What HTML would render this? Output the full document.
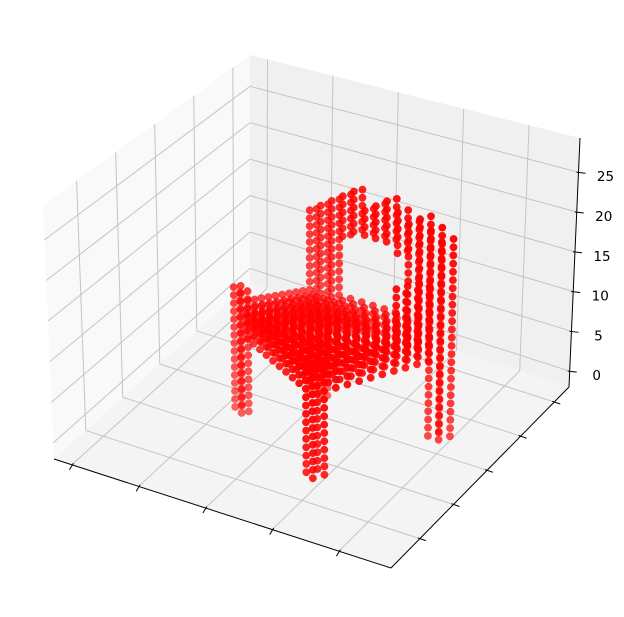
<!DOCTYPE html>
<html><head><meta charset="utf-8"><style>
html,body{margin:0;padding:0;background:#fff;}
svg{display:block;}
text{font-family:"DejaVu Sans","Liberation Sans",sans-serif;font-size:13.5px;fill:#000;}
</style></head><body>
<svg id="chart" width="624" height="617" viewBox="0 0 624 617" xmlns="http://www.w3.org/2000/svg">
<g id="panes"></g>
<g id="grid"></g>
<g id="axes"></g>
<g id="pts"></g>
</svg>
<script>
// ---- data ----
const xTicks = [0, 5, 10, 15, 20];
const yTicks = [0, 5, 10, 15, 20];
const zTicks = [0, 5, 10, 15, 20, 25];
const zTickLabels = ["0", "5", "10", "15", "20", "25"];
const xLim = [-1.34, 23.9];
const yLim = [-4.3, 22.2];
const zLim = [-2, 29.3];
// chair frame corners in data coords (x,y): front-left B, front-right A, back-left D, back-right C
const cornerB = [6.6, 6.2];
const cornerA = [15.3, 1.0];
const cornerD = [10.3, 10.8];
const cornerC = [20.7, 10.6];
const gridN = 13;
// backrest rows z=27 down to 14, columns s=0..12 (left to right)
const backTopZ = 27;
const backRows = [
"....#..#.....",
"...##.###.#..",
"..##########.",
".############",
"#############",
"#############",
"####....#####",
"###......####",
"###......####",
"###......####",
"###.......###",
"###.......###",
"###.......###",
"###.......###"];
// seat layers
const seatZ = [10, 11, 12, 13];
// legs: [s0, s1, t0, t1, z0, z1]
const legs = [
 [0, 1, 0, 1, 0, 15],
 [11, 12, 0, 1, 0, 9],
 [11, 12, 11, 12, 0, 9],
 [0, 1, 11, 12, 0, 9]];
// right side panel near back-right: [s0,s1,t0,t1,z0,z1]
const sidePanels = [
 [11, 12, 8, 10, 14, 19]];

// ---- projection ----
const botQ = {q00:[54,459], q10:[391,568], q11:[569,387], q01:[250,283]};
const topQ = {q00:[43,205], q10:[391,294], q11:[580,138], q01:[250,55]};
function bil(Q,u,v,i){return Q.q00[i]*(1-u)*(1-v)+Q.q10[i]*u*(1-v)+Q.q11[i]*u*v+Q.q01[i]*(1-u)*v;}
function projUVW(u,v,w){
  const bx=bil(botQ,u,v,0), by=bil(botQ,u,v,1), tx=bil(topQ,u,v,0), ty=bil(topQ,u,v,1);
  return [bx+(tx-bx)*w, by+(ty-by)*w];
}
function U(x){return (x-xLim[0])/(xLim[1]-xLim[0]);}
function V(y){return (y-yLim[0])/(yLim[1]-yLim[0]);}
function W(z){return (z-zLim[0])/(zLim[1]-zLim[0]);}
const NS="http://www.w3.org/2000/svg";
function mk(tag,attrs,parent){const e=document.createElementNS(NS,tag);for(const k in attrs)e.setAttribute(k,attrs[k]);parent.appendChild(e);return e;}
function line(a,b,parent,col,wd,name){
  const e=mk('line',{x1:a[0],y1:a[1],x2:b[0],y2:b[1],stroke:col,'stroke-width':wd},parent);
  
  
  return e;
}
function poly(pts,fill,parent,name){
  const e=mk('polygon',{points:pts.map(p=>p.join(',')).join(' '),fill:fill},parent);
  
  
}
const gP=document.getElementById('panes'), gG=document.getElementById('grid'), gA=document.getElementById('axes'), gPts=document.getElementById('pts');
poly([projUVW(0,0,0),projUVW(0,1,0),projUVW(0,1,1),projUVW(0,0,1)],'#f9f9f9',gP,'left-pane');
poly([projUVW(0,1,0),projUVW(1,1,0),projUVW(1,1,1),projUVW(0,1,1)],'#f0f0f0',gP,'right-pane');
poly([projUVW(0,0,0),projUVW(1,0,0),projUVW(1,1,0),projUVW(0,1,0)],'#f4f4f4',gP,'floor-pane');
const GC='#c4c4c4';
xTicks.forEach(t=>{const u=U(t);
  line(projUVW(u,0,0),projUVW(u,1,0),gG,GC,1,'x-grid-floor');
  line(projUVW(u,1,0),projUVW(u,1,1),gG,GC,1,'x-grid-back');
});
yTicks.forEach(t=>{const v=V(t);
  line(projUVW(0,v,0),projUVW(1,v,0),gG,GC,1,'y-grid-floor');
  line(projUVW(0,v,0),projUVW(0,v,1),gG,GC,1,'y-grid-left');
});
zTicks.forEach(t=>{const w=W(t);
  line(projUVW(0,0,w),projUVW(0,1,w),gG,GC,1,'z-grid-left');
  line(projUVW(0,1,w),projUVW(1,1,w),gG,GC,1,'z-grid-right');
});
line(projUVW(0,0,0),projUVW(1,0,0),gA,'#000',1,'x-axis-line');
line(projUVW(1,0,0),projUVW(1,1,0),gA,'#000',1,'y-axis-line');
line(projUVW(1,1,0),projUVW(1,1,1),gA,'#000',1,'z-axis-line');
xTicks.forEach(t=>{const p=projUVW(U(t),0,0);
  line([p[0]+1.5,p[1]-1.5],[p[0]-2.5,p[1]+5],gA,'#000',1,'x-tick');});
yTicks.forEach(t=>{const p=projUVW(1,V(t),0);
  line([p[0]-2,p[1]-0.7],[p[0]+6,p[1]+2],gA,'#000',1,'y-tick');});
zTicks.forEach((t,i)=>{const p=projUVW(1,1,W(t));
  line([p[0]-2,p[1]],[p[0]+7,p[1]+1],gA,'#000',1,'z-tick');
  const tx=mk('text',{x:p[0]+27,y:p[1]+9,'text-anchor':'middle'},gA);
  tx.textContent=zTickLabels[i];
  
  
});
function local(s,t){
  const a=s/(gridN-1), b=t/(gridN-1);
  const x=cornerB[0]*(1-a)*(1-b)+cornerA[0]*a*(1-b)+cornerC[0]*a*b+cornerD[0]*(1-a)*b;
  const y=cornerB[1]*(1-a)*(1-b)+cornerA[1]*a*(1-b)+cornerC[1]*a*b+cornerD[1]*(1-a)*b;
  return [x,y];
}
const pts=[];const seen={};
function add(s,t,z){const k=s+'_'+t+'_'+z;if(seen[k])return;seen[k]=1;const xy=local(s,t);pts.push([xy[0],xy[1],z]);}
seatZ.forEach(z=>{for(let s=0;s<gridN;s++)for(let t=0;t<gridN;t++)add(s,t,z);});
legs.concat(sidePanels).forEach(L=>{for(let s=L[0];s<=L[1];s++)for(let t=L[2];t<=L[3];t++)for(let z=L[4];z<=L[5];z++)add(s,t,z);});
backRows.forEach((row,i)=>{const z=backTopZ-i;for(let s=0;s<row.length;s++)if(row[s]==='#'){add(s,gridN-1,z);add(s,gridN-2,z);}});
pts.forEach(p=>{const u=U(p[0]),v=V(p[1]),w=W(p[2]);p.push(0.433*4*u-0.75*4*v+0.5*3*w);});
let dmin=Infinity,dmax=-Infinity;pts.forEach(p=>{dmin=Math.min(dmin,p[3]);dmax=Math.max(dmax,p[3]);});
pts.sort((a,b)=>a[3]-b[3]);
pts.forEach(p=>{
  const s=projUVW(U(p[0]),V(p[1]),W(p[2]));
  const a=0.55+0.45*(p[3]-dmin)/(dmax-dmin||1);
  const c=mk('circle',{cx:s[0].toFixed(1),cy:s[1].toFixed(1),r:3.9,fill:'#ff0000','fill-opacity':a.toFixed(2)},gPts);
  
  
});
</script>
</body></html>
